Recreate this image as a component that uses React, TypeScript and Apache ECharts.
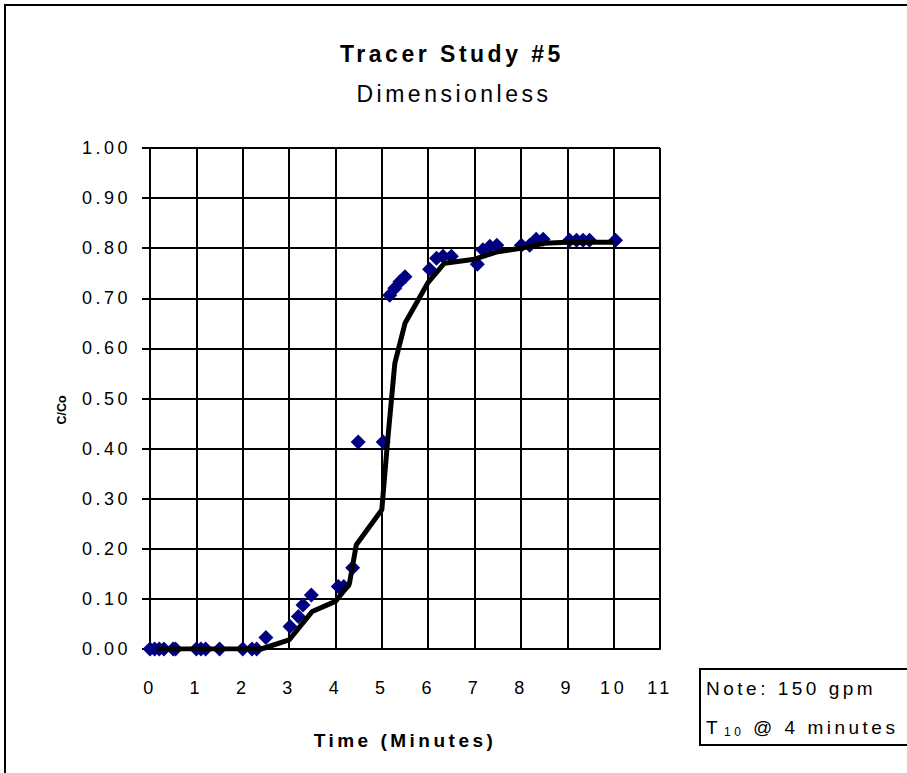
import React, { useEffect, useRef } from "react";
import * as echarts from "echarts";

const titleText = "Tracer Study #5";
const subtitleText = "Dimensionless";
const xAxisName = "Time (Minutes)";
const yAxisName = "C/Co";
const noteLine1 = "Note: 150 gpm";
const noteLine2Main = "T";
const noteLine2Sub = "10";
const noteLine2Rest = "@ 4 minutes";

// measured points (time in minutes, C/Co)
const pointTimes = [0, 0.1, 0.2, 0.3, 0.5, 0.55, 1.0, 1.1, 1.2, 1.5, 2.0, 2.2, 2.3, 2.5,
  3.02, 3.2, 3.3, 3.48, 4.06, 4.18, 4.37, 4.49, 5.03,
  5.17, 5.28, 5.39, 5.5, 6.03, 6.18, 6.32, 6.5,
  7.06, 7.18, 7.33, 7.48, 8.01, 8.19, 8.33, 8.48, 9.05, 9.2, 9.34, 9.48, 10.04];
const pointValues = [0, 0, 0, 0, 0, 0, 0, 0, 0, 0, 0, 0, 0, 0.023,
  0.045, 0.065, 0.088, 0.108, 0.125, 0.125, 0.162, 0.413, 0.413,
  0.706, 0.72, 0.733, 0.743, 0.758, 0.78, 0.784, 0.784,
  0.768, 0.797, 0.804, 0.806, 0.806, 0.806, 0.818, 0.818, 0.816, 0.816, 0.816, 0.816, 0.816];

// fitted curve
const curveTimes = [0.15, 2.4, 3.0, 3.5, 4.0, 4.3, 4.45, 5.0, 5.12, 5.28, 5.5, 6.0, 6.35, 7.0, 7.5, 8.0, 8.5, 9.0, 10.0];
const curveValues = [0, 0, 0.018, 0.075, 0.095, 0.13, 0.208, 0.278, 0.41, 0.57, 0.65, 0.732, 0.77, 0.778, 0.793, 0.80, 0.81, 0.812, 0.812];

const font = "'Liberation Sans', Arial, sans-serif";

export default function App() {
  const ref = useRef<HTMLDivElement>(null);
  useEffect(() => {
    if (!ref.current) return;
    const chart = echarts.init(ref.current, undefined, { renderer: "svg" });
    const scatterData = pointTimes.map((t, i) => [t, pointValues[i]]);
    const lineData = curveTimes.map((t, i) => [t, curveValues[i]]);
    const txt = (text: string, x: number, y: number, f: string, align = "left", rotation = 0) => ({
      type: "text",
      x,
      y,
      rotation,
      style: { text, textAlign: align, textVerticalAlign: "middle", font: f, fill: "#000" },
    });
    chart.setOption({
      animation: false,
      backgroundColor: "#ffffff",
      textStyle: { fontFamily: font },
      grid: { left: 150, right: 247, top: 148, bottom: 124, containLabel: false },
      graphic: [
        {
          type: "rect",
          shape: { x: 5, y: 5, width: 920, height: 800 },
          style: { fill: "none", stroke: "#000", lineWidth: 2 },
          silent: true,
          z: -1,
        },
        txt(titleText, 452, 54, `bold 23px ${font}`, "center"),
        txt(subtitleText, 454, 94, `23px ${font}`, "center"),
        {
          type: "rect",
          shape: { x: 700, y: 669, width: 230, height: 76 },
          style: { fill: "#fff", stroke: "#000", lineWidth: 2 },
        },
        txt(noteLine1, 706, 688, `19px ${font}`),
        txt(noteLine2Main, 706, 727, `19px ${font}`),
        txt(noteLine2Sub, 724, 732, `12px ${font}`),
        txt(noteLine2Rest, 753, 727, `19px ${font}`),
        txt(yAxisName, 62, 410, `bold 12.5px ${font}`, "center", Math.PI / 2),
      ],
      xAxis: {
        type: "value",
        min: 0,
        max: 11,
        interval: 1,
        name: xAxisName,
        nameLocation: "middle",
        nameGap: 82,
        nameTextStyle: { fontSize: 19, fontWeight: "bold", color: "#000", fontFamily: font },
        axisLine: { show: true, lineStyle: { color: "#000", width: 2 } },
        axisTick: { show: false },
        axisLabel: { margin: 30, fontSize: 18, color: "#000", fontFamily: font },
        splitLine: { show: true, lineStyle: { color: "#000", width: 2 } },
      },
      yAxis: {
        type: "value",
        min: 0,
        max: 1,
        interval: 0.1,
        axisLine: { show: true, lineStyle: { color: "#000", width: 2 } },
        axisTick: { show: true, length: 8, lineStyle: { color: "#000", width: 2 } },
        axisLabel: {
          margin: 19,
          fontSize: 18,
          color: "#000",
          fontFamily: font,
          formatter: (v: number) => v.toFixed(2),
        },
        splitLine: { show: true, lineStyle: { color: "#000", width: 2 } },
      },
      series: [
        {
          type: "scatter",
          data: scatterData,
          symbol: "diamond",
          symbolSize: 15,
          itemStyle: { color: "#000080", opacity: 1 },
          z: 2,
        },
        {
          type: "line",
          data: lineData,
          showSymbol: false,
          symbol: "none",
          lineStyle: { color: "#000", width: 5 },
          z: 3,
        },
      ],
    });
    return () => chart.dispose();
  }, []);
  return (
    <>
      <style>{`text[style*="12.5px"]{letter-spacing:0px !important;}`}</style>
      <div
        ref={ref}
        style={{ position: "fixed", left: 0, top: 0, width: 907, height: 773, letterSpacing: "3.5px" }}
      />
    </>
  );
}
